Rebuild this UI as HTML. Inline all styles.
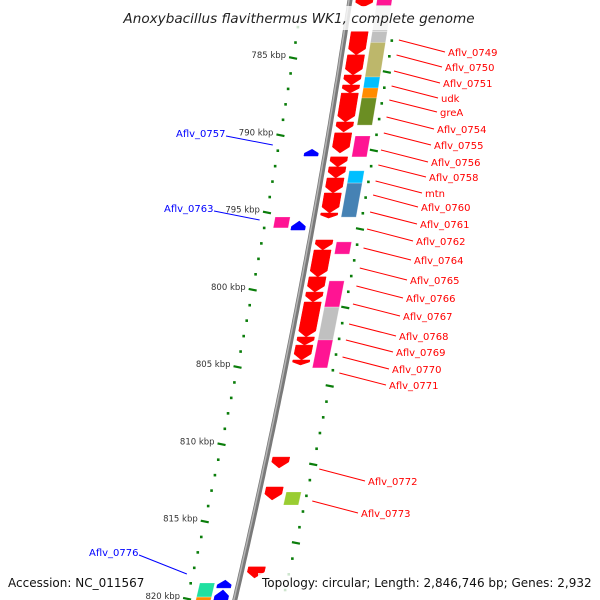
<!DOCTYPE html>
<html><head><meta charset="utf-8"><style>
html,body{margin:0;background:#fff;width:600px;height:600px;overflow:hidden}
svg{display:block}
text{font-family:"DejaVu Sans","Liberation Sans",sans-serif}
</style></head><body>
<svg id="c" width="600" height="600" viewBox="0 0 600 600"></svg>
<script>
// kbp tick labels
const tickKbp=[785,790,795,800,805,810,815,820];
// forward-strand genes (right side) inner row: [start,end] kbp
const fwdArrows=[[781.2,781.7],[783.3,784.8],[784.8,786.1],[786.1,786.75],[786.75,787.27],[787.27,789.14],[789.14,789.79],[789.85,791.15],[791.4,792.05],[792.05,792.77],[792.77,793.74],[793.74,795.03],[795.03,795.36],[796.78,797.43],[797.43,799.17],[799.17,800.15],[800.15,800.79],[800.79,803.06],[803.06,803.58],[803.58,804.55],[804.55,804.87],[810.83,811.54],[812.77,813.61],[817.94,818.66]];
// forward-strand feature boxes: [start,end,color]
const fwdBoxes=[[781.2,781.6,"#ff1493"],[781.6,783.3,"#cccccc"],[783.3,784.0,"#c0c0c0"],[784.0,786.23,"#bdb76b"],[786.23,786.94,"#00bfff"],[786.94,787.59,"#ff8c00"],[787.59,789.34,"#6b8e23"],[790.05,791.4,"#ff1493"],[792.3,793.1,"#00bfff"],[793.1,795.3,"#4682b4"],[796.9,797.69,"#ff1493"],[799.43,801.12,"#ff1493"],[801.12,803.25,"#c0c0c0"],[803.25,805.06,"#ff1493"],[813.09,813.93,"#9acd32"]];
// reverse-strand genes (left side)
const revArrows=[[790.9,791.34],[795.55,796.13],[818.79,819.3],[819.43,820.08]];
const revBoxes=[[795.29,796.0,"#ff1493"],[818.98,819.89,"#20e0a0"],[819.89,820.5,"#ff8c00"]];
// gene labels right: [name, labelX, labelY]
const rLabels=[["Aflv_0749",448,52],["Aflv_0750",445,67],["Aflv_0751",443,83],["udk",441,98],["greA",440,112],["Aflv_0754",437,129],["Aflv_0755",434,145],["Aflv_0756",431,162],["Aflv_0758",429,177],["mtn",425,193],["Aflv_0760",421,207],["Aflv_0761",420,224],["Aflv_0762",416,241],["Aflv_0764",414,260],["Aflv_0765",410,280],["Aflv_0766",406,298],["Aflv_0767",403,316],["Aflv_0768",399,336],["Aflv_0769",396,352],["Aflv_0770",392,369],["Aflv_0771",389,385],["Aflv_0772",368,481],["Aflv_0773",361,513]];
const lLabels=[["Aflv_0757",176,133],["Aflv_0763",164,208],["Aflv_0776",89,552]];

const NS="http://www.w3.org/2000/svg";
const svg=document.getElementById('c');
function el(t,a,p){const e=document.createElementNS(NS,t);for(const k in a)e.setAttribute(k,a[k]);(p||svg).appendChild(e);return e;}
const bx=y=>350-0.15*y-0.00007*y*y;
const yk=k=>58+(k-785)*15.45;
const P=(y,o)=>[bx(y)+o,y];
const pts=a=>a.map(p=>p[0].toFixed(1)+","+p[1].toFixed(1)).join(" ");

// backbone
let d="";for(let y=-5;y<=605;y+=5){d+=(y<0?"M":"L")+bx(y).toFixed(1)+","+y;}
let bb=el('path',{d:d,stroke:"#7a7a7a","stroke-width":5,fill:"none"});

let bb2=el('path',{d:d,stroke:"#b5b5b5","stroke-width":1.5,fill:"none",transform:"translate(-1,0)"});


// ticks
const tg=el('g',{});
for(let k=783;k<=821;k++){
  const y=yk(k), maj=(k%5===0);
  const x=bx(y)-48;
  if(maj){el('line',{x1:x-4,y1:y-0.8,x2:x+4,y2:y+0.8,stroke:"#0a7d0a","stroke-width":2.2},tg);}
  else el('rect',{x:x-1.3,y:y-1.3,width:2.6,height:2.6,fill:"#0a7d0a"},tg);
  const yo=y+14+0.016*(y-58), xo=bx(yo)+48;
  if(maj){el('line',{x1:xo-4,y1:yo-0.8,x2:xo+4,y2:yo+0.8,stroke:"#0a7d0a","stroke-width":2.2},tg);}
  else el('rect',{x:xo-1.3,y:yo-1.3,width:2.6,height:2.6,fill:"#0a7d0a"},tg);
}
tickKbp.forEach(k=>{const y=yk(k);const t=el('text',{x:bx(y)-55,y:y,"font-size":8.5,fill:"#333","text-anchor":"end"});t.textContent=k+" kbp";
});

// genes
function arrow(s,e,o1,o2,col,down){
  const y1=yk(s),y2=yk(e);const h=Math.min(6,(y2-y1)*0.6);
  let p;
  if(down) p=[P(y1,o1),P(y1,o2),P(y2-h,o2),P(y2,(o1+o2)/2),P(y2-h,o1)];
  else p=[P(y2,o1),P(y2,o2),P(y1+h,o2),P(y1,(o1+o2)/2),P(y1+h,o1)];
  const g=el('polygon',{points:pts(p),fill:col,stroke:col,"stroke-width":0.5});
  
}
function box(s,e,o1,o2,col){
  const y1=yk(s),y2=yk(e);
  const g=el('polygon',{points:pts([P(y1,o1),P(y1,o2),P(y2,o2),P(y2,o1)]),fill:col,stroke:"#fff","stroke-opacity":0.4,"stroke-width":0.6});
  
}
fwdArrows.forEach(a=>arrow(a[0],a[1],6,23,"#ff0000",true));
fwdBoxes.forEach(b=>box(b[0],b[1],27,42,b[2]));
revArrows.forEach(a=>arrow(a[0],a[1],-21,-7,"#0000ff",false));
revBoxes.forEach(b=>box(b[0],b[1],-39,-24,b[2]));

// labels
rLabels.forEach(l=>{const sy=l[2]-12;
  const ln=el('line',{x1:bx(sy)+55,y1:sy,x2:l[1]-3,y2:l[2],stroke:"#ff0000","stroke-width":1});
  
  const t=el('text',{x:l[1],y:l[2]+4,"font-size":10,fill:"#ff0000"});t.textContent=l[0];
  });
lLabels.forEach(l=>{const sy=l[2]+12+(l[0]==="Aflv_0776"?10:0);
  const ln=el('line',{x1:l[1]+50,y1:l[2]+3,x2:bx(sy)-54,y2:sy,stroke:"#0000ff","stroke-width":1});
  
  const t=el('text',{x:l[1],y:l[2]+4,"font-size":10,fill:"#0000ff"});t.textContent=l[0];
  });

// title & footer
let r=el('rect',{x:118,y:6,width:362,height:24,fill:"#fff","fill-opacity":0.8});

let t=el('text',{x:299,y:23,"font-size":13.6,"font-style":"italic","text-anchor":"middle",fill:"#222"});t.textContent="Anoxybacillus flavithermus WK1, complete genome";

r=el('rect',{x:4,y:573,width:146,height:20,fill:"#fff","fill-opacity":0.8});

r=el('rect',{x:258,y:573,width:338,height:20,fill:"#fff","fill-opacity":0.8});

t=el('text',{x:8,y:587,"font-size":12,fill:"#111"});t.textContent="Accession: NC_011567";

t=el('text',{x:262,y:587,"font-size":12,fill:"#111"});t.textContent="Topology: circular; Length: 2,846,746 bp; Genes: 2,932";

</script>
</body></html>
